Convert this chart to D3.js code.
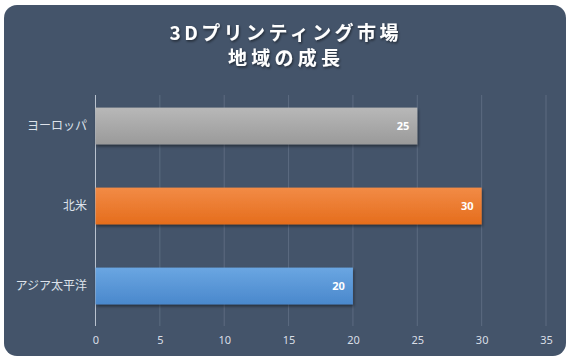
<!DOCTYPE html>
<html><head><meta charset="utf-8">
<script src="https://cdn.jsdelivr.net/npm/d3@7/dist/d3.min.js"></script>
<style>body{margin:0;background:#fff;}svg{display:block;}</style>
</head><body>
<svg id="c" width="571" height="362"></svg>
<script>
const categories = ["ヨーロッパ", "北米", "アジア太平洋"];
const values = [25, 30, 20];
const barColors = [["#b8b8b8", "#9a9a9a"], ["#f28b46", "#e56d1c"], ["#6aa6e2", "#4a88cc"]];
const xTicks = [0, 5, 10, 15, 20, 25, 30, 35];
const titleLines = ["3Dプリンティング市場", "地域の成長"];
const titleWidths = [229, 112];

const svg = d3.select("#c");
const defs = svg.append("defs");
barColors.forEach((c, i) => {
  const g = defs.append("linearGradient").attr("id", "g" + i).attr("x1", 0).attr("y1", 0).attr("x2", 0).attr("y2", 1);
  g.append("stop").attr("offset", "0%").attr("stop-color", c[0]);
  g.append("stop").attr("offset", "100%").attr("stop-color", c[1]);
});
const f = defs.append("filter").attr("id", "sh").attr("x", "-10%").attr("y", "-20%").attr("width", "130%").attr("height", "160%");
f.append("feDropShadow").attr("dx", 1).attr("dy", 2).attr("stdDeviation", 1.5).attr("flood-color", "#000").attr("flood-opacity", 0.45);
const ft = defs.append("filter").attr("id", "tsh").attr("x", "-10%").attr("y", "-30%").attr("width", "130%").attr("height", "170%");
ft.append("feDropShadow").attr("dx", 1).attr("dy", 1.5).attr("stdDeviation", 1).attr("flood-color", "#000").attr("flood-opacity", 0.5);

svg.append("rect").attr("x", 4).attr("y", 5).attr("width", 562).attr("height", 351).attr("rx", 13).attr("fill", "#44546a");

const x = d3.scaleLinear().domain([0, 35]).range([95.5, 546]);
const y = d3.scaleBand().domain(categories).range([86, 326]).paddingInner(0.54).paddingOuter(0.27);

// grid
svg.append("g").selectAll("line").data(xTicks).join("line")
  .attr("x1", d => x(d)).attr("x2", d => x(d)).attr("y1", 95).attr("y2", 326)
  .attr("stroke", d => d === 0 ? "#b9c2ce" : "#5c6b80").attr("stroke-width", 1);

// x axis labels
const xa = svg.append("g").attr("transform", "translate(0,340)")
  .call(d3.axisBottom(x).tickValues(xTicks).tickSize(0).tickPadding(0));
xa.select(".domain").remove();
xa.selectAll("text").attr("fill", "#d9dee6").attr("font-size", 11).attr("font-family", "'Noto Sans', sans-serif").attr("dy", "0.32em");

// y labels
const ya = svg.append("g").attr("transform", "translate(87,0)")
  .call(d3.axisLeft(y).tickSize(0).tickPadding(0));
ya.select(".domain").remove();
ya.selectAll("text").attr("fill", "#dde2ea").attr("font-size", 12).attr("font-family", "'Noto Sans CJK JP', sans-serif");

// bars
svg.append("g").selectAll("rect").data(values).join("rect")
  .attr("x", x(0)).attr("y", (d, i) => y(categories[i]))
  .attr("width", d => x(d) - x(0)).attr("height", y.bandwidth())
  .attr("fill", (d, i) => `url(#g${i})`).attr("filter", "url(#sh)");

// value labels
svg.append("g").selectAll("text").data(values).join("text")
  .attr("x", d => x(d) - 8).attr("y", (d, i) => y(categories[i]) + y.bandwidth() / 2)
  .attr("dy", "0.35em").attr("text-anchor", "end")
  .attr("fill", "#fff").attr("font-size", 11).attr("font-weight", "bold")
  .attr("font-family", "'Noto Sans', sans-serif").text(d => d);

// title
svg.append("g").selectAll("text").data(titleLines).join("text")
  .attr("x", (d, i) => 284 - titleWidths[i] / 2).attr("y", (d, i) => 40 + i * 25)
  .attr("textLength", (d, i) => titleWidths[i]).attr("lengthAdjust", "spacing")
  .attr("fill", "#fff")
  .attr("font-size", 19).attr("font-weight", "bold")
  .attr("font-family", "'Noto Sans CJK JP', sans-serif").attr("filter", "url(#tsh)")
  .text(d => d);
</script>
</body></html>
